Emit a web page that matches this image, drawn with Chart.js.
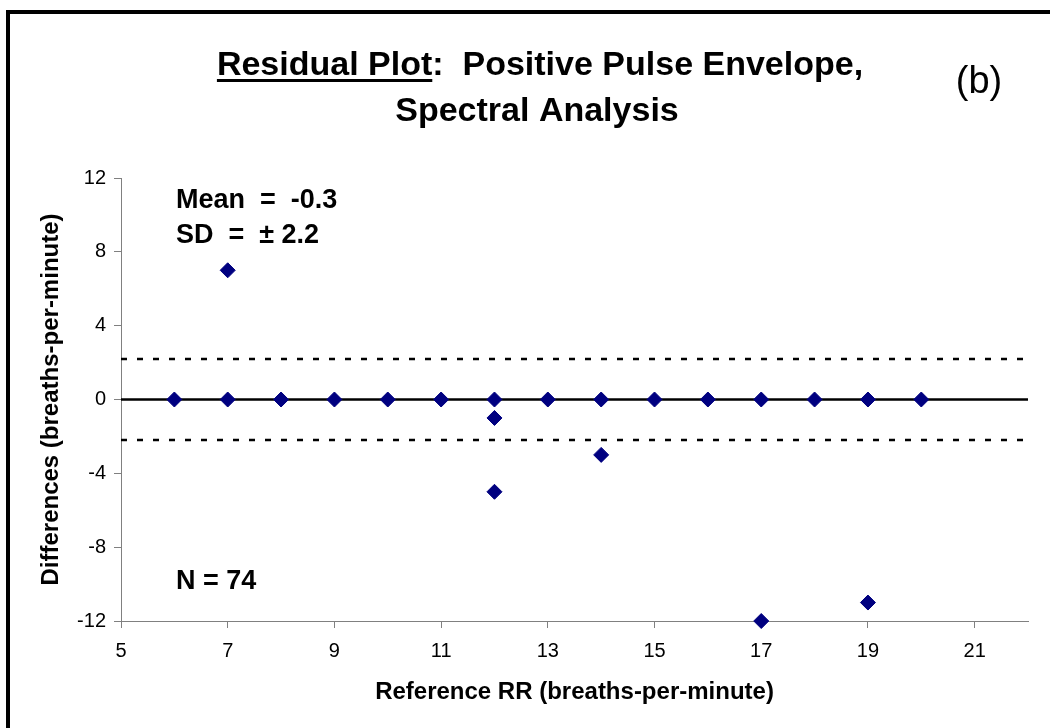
<!DOCTYPE html>
<html>
<head>
<meta charset="utf-8">
<title>Residual Plot: Positive Pulse Envelope, Spectral Analysis</title>
<script src="https://cdn.jsdelivr.net/npm/chart.js@4/dist/chart.umd.min.js"></script>
<style>
  html, body { margin: 0; padding: 0; background: #ffffff; }
  canvas { display: block; }
</style>
</head>
<body>
<canvas id="chart" width="1050" height="728"></canvas>
<script>
// Reference respiratory rate (breaths-per-minute) for each visible residual
const referenceRR = [6, 7, 8, 9, 10, 11, 12, 13, 14, 15, 16, 17, 18, 19, 20, 7, 12, 12, 14, 17, 19];
// Difference between estimated and reference rate
const differences = [0, 0, 0, 0, 0, 0, 0, 0, 0, 0, 0, 0, 0, 0, 0, 7, -1, -5, -3, -12, -11];

// Axis ranges and tick values
const xRange = [5, 22];
const yRange = [-12, 12];
const xTicks = [5, 7, 9, 11, 13, 15, 17, 19, 21];
const yTicks = [-12, -8, -4, 0, 4, 8, 12];

// Summary statistics
const meanDiff = -0.3;
const sdDiff = 2.2;
const sampleCount = 74;

const FONT = '"Liberation Sans", Arial, Helvetica, sans-serif';

const points = referenceRR.map((x, i) => ({ x: x, y: differences[i] }));
const hLine = (y) => [{ x: xRange[0], y: y }, { x: xRange[1], y: y }];

// White page with the black frame along the top and left edges
const framePlugin = {
  id: 'frame',
  beforeDraw(chart) {
    const ctx = chart.ctx;
    ctx.save();
    ctx.fillStyle = '#ffffff';
    ctx.fillRect(0, 0, chart.width, chart.height);
    ctx.fillStyle = '#000000';
    ctx.fillRect(6, 10, 4, chart.height - 10);
    ctx.fillRect(6, 10, chart.width - 6, 4);
    ctx.restore();
  }
};

// Heading, panel letter and the statistics printed inside the plot
const textPlugin = {
  id: 'texts',
  afterDraw(chart) {
    const ctx = chart.ctx;
    const area = chart.chartArea;
    ctx.save();
    ctx.fillStyle = '#000000';
    ctx.textBaseline = 'alphabetic';

    // Heading line 1, "Residual Plot" underlined
    ctx.font = 'bold 34px ' + FONT;
    const part1 = 'Residual Plot';
    const part2 = ':  Positive Pulse Envelope,';
    const w1 = ctx.measureText(part1).width;
    const w2 = ctx.measureText(part2).width;
    const cx = 540;
    const x0 = cx - (w1 + w2) / 2;
    ctx.textAlign = 'left';
    ctx.fillText(part1, x0, 75);
    ctx.fillText(part2, x0 + w1, 75);
    ctx.fillRect(x0, 79, w1, 3);

    // Heading line 2
    ctx.textAlign = 'center';
    ctx.fillText('Spectral Analysis', 537, 121);

    // Panel letter
    ctx.font = '38px ' + FONT;
    ctx.fillText('(b)', 979, 93);

    // Statistics
    ctx.font = 'bold 27px ' + FONT;
    ctx.textAlign = 'left';
    const tx = area.left + 55;
    ctx.fillText('Mean  =  ' + meanDiff.toFixed(1), tx, 208);
    ctx.fillText('SD  =  \u00B1 ' + sdDiff.toFixed(1), tx, 243);
    ctx.fillText('N = ' + sampleCount, tx, 589);
    ctx.restore();
  }
};

const axisColor = '#808080';

new Chart(document.getElementById('chart'), {
  type: 'scatter',
  data: {
    datasets: [
      {
        label: 'Differences',
        data: points,
        pointStyle: 'rectRot',
        pointRadius: 7.5,
        pointHoverRadius: 7.5,
        backgroundColor: '#000080',
        borderColor: '#000080',
        borderWidth: 1,
        clip: false
      },
      {
        type: 'line',
        label: 'Zero',
        data: hLine(0),
        borderColor: '#000000',
        borderWidth: 2.5,
        pointRadius: 0,
        fill: false
      },
      {
        type: 'line',
        label: '+SD',
        data: hLine(sdDiff),
        borderColor: '#000000',
        borderWidth: 2.5,
        borderDash: [6, 10],
        pointRadius: 0,
        fill: false
      },
      {
        type: 'line',
        label: '-SD',
        data: hLine(-sdDiff),
        borderColor: '#000000',
        borderWidth: 2.5,
        borderDash: [6, 10],
        pointRadius: 0,
        fill: false
      }
    ]
  },
  options: {
    responsive: false,
    animation: false,
    devicePixelRatio: 1,
    layout: { padding: { left: 37, right: 22, top: 178, bottom: 21 } },
    plugins: {
      legend: { display: false },
      title: { display: false },
      tooltip: { enabled: false }
    },
    scales: {
      x: {
        type: 'linear',
        position: 'bottom',
        min: xRange[0],
        max: xRange[1],
        afterBuildTicks: (s) => { s.ticks = xTicks.map(v => ({ value: v })); },
        afterFit: (s) => { s.height = 86; },
        grid: { drawOnChartArea: false, drawTicks: true, tickLength: 7, color: axisColor, lineWidth: 1 },
        border: { display: true, color: axisColor, width: 1 },
        ticks: { color: '#000000', font: { family: FONT, size: 20 }, padding: 11, maxRotation: 0 },
        title: {
          display: true,
          text: 'Reference RR (breaths-per-minute)',
          color: '#000000',
          font: { family: FONT, size: 24, weight: 'bold' },
          padding: 0
        }
      },
      y: {
        type: 'linear',
        min: yRange[0],
        max: yRange[1],
        afterBuildTicks: (s) => { s.ticks = yTicks.map(v => ({ value: v })); },
        afterFit: (s) => { s.width = 84; },
        grid: { drawOnChartArea: false, drawTicks: true, tickLength: 7, color: axisColor, lineWidth: 1 },
        border: { display: true, color: axisColor, width: 1 },
        ticks: { color: '#000000', font: { family: FONT, size: 20 }, padding: 8 },
        title: {
          display: true,
          text: 'Differences (breaths-per-minute)',
          color: '#000000',
          font: { family: FONT, size: 24, weight: 'bold' },
          padding: 0
        }
      }
    }
  },
  plugins: [framePlugin, textPlugin]
});
</script>
</body>
</html>
